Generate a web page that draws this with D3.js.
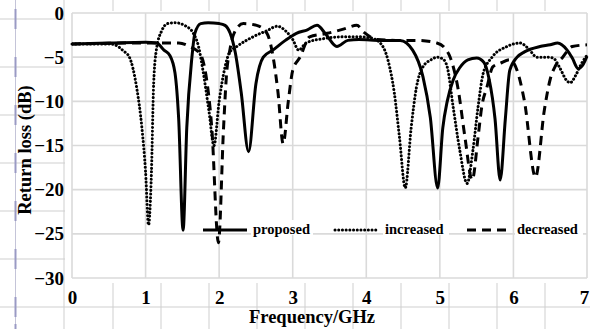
<!DOCTYPE html>
<head>
  <meta charset="utf-8">
  <title>Return loss</title>
  <style>
      body { margin: 0; background: #fff; }
      svg { display: block; font-family: "Liberation Serif", "Times New Roman", serif; font-weight: bold; }
  </style>
  <script src="https://d3js.org/d3.v7.js"></script>
</head>
<body>
<div id="chart"></div>

<script>
    // proposed (solid)
    const proposedF = [0, 0.5, 1.0, 1.15, 1.25, 1.33, 1.4, 1.45, 1.51, 1.56, 1.63, 1.67, 1.75, 1.85, 2.0, 2.08, 2.15, 2.22, 2.3, 2.4,
        2.5, 2.6, 2.73, 2.9, 3.05, 3.2, 3.33, 3.45, 3.6, 3.75, 3.9, 4.2, 4.46, 4.63, 4.77, 4.87, 4.97,
        5.04, 5.1, 5.18, 5.27, 5.38, 5.5, 5.6, 5.67, 5.75, 5.82, 5.89, 5.95, 6.05, 6.15, 6.36, 6.5, 6.6, 6.73, 6.8, 6.88, 6.95, 7.0];
    const proposedDb = [-3.5, -3.4, -3.3, -3.4, -4.2, -4.8, -6.8, -12, -24.6, -13, -5, -2.3, -1.2, -1.1, -1.2, -1.4, -2.3, -4.5, -9, -15.7,
        -8, -5, -4.2, -3.1, -2.3, -1.9, -1.4, -2.4, -3.8, -3.1, -3.0, -3.1, -3.1, -4.2, -7.2, -11.8, -19.8,
        -13, -10, -7.6, -6.2, -5.3, -5.1, -5.6, -7.5, -12, -18.9, -12, -6.5, -5, -4.4, -3.8, -3.6, -3.4, -4.2, -5.1, -6.3, -5.8, -4.9];

    // increased (dotted)
    const increasedF = [0, 0.5, 0.58, 0.7, 0.78, 0.88, 0.95, 1.0, 1.04, 1.08, 1.11, 1.15, 1.22, 1.3, 1.4, 1.55, 1.65, 1.72, 1.78, 1.86, 1.93,
        2.0, 2.07, 2.14, 2.24, 2.46, 2.65, 2.79, 2.9, 3.0, 3.08, 3.18, 3.42, 3.7, 3.9, 4.05, 4.19, 4.3, 4.38, 4.45, 4.53,
        4.61, 4.68, 4.77, 4.88, 4.96, 5.04, 5.1, 5.18, 5.27, 5.37, 5.45, 5.52, 5.59, 5.71, 5.91, 6.09, 6.2, 6.32, 6.45, 6.54,
        6.63, 6.72, 6.77, 6.85, 6.92, 7.0];
    const increasedDb = [-3.5, -3.5, -3.6, -4.3, -5, -8.5, -13, -18, -24, -18, -8, -4, -2, -1.2, -1.1, -1.5, -2.3, -3.8, -6.5, -11, -15,
        -10, -6.5, -4.5, -3.8, -2.7, -2.0, -1.5, -2.0, -3.0, -4.2, -3.4, -2.9, -2.7, -2.7, -2.8, -3.4, -5.5, -9, -14, -19.8,
        -13, -8.5, -6.1, -5.3, -5.0, -5.2, -6.1, -10.6, -15.5, -19.3, -15.5, -10.6, -6.8, -5.0, -3.8, -3.4, -4.0, -5.0, -5.0, -5.1,
        -6.2, -7.6, -7.9, -7.0, -5.8, -4.8];

    // decreased (dashed)
    const decreasedF = [0, 1.0, 1.2, 1.45, 1.6, 1.74, 1.82, 1.9, 1.99, 2.06, 2.1, 2.15, 2.22, 2.33, 2.51, 2.65, 2.74, 2.8, 2.87, 2.94,
        3.0, 3.1, 3.23, 3.47, 3.7, 3.87, 3.97, 4.15, 4.4, 4.69, 4.96, 5.07, 5.14, 5.25, 5.34, 5.44, 5.52, 5.57, 5.64, 5.72,
        5.82, 5.95, 6.05, 6.15, 6.3, 6.42, 6.5, 6.57, 6.67, 6.8, 7.0];
    const decreasedDb = [-3.5, -3.4, -3.4, -3.4, -3.8, -4.6, -7, -13, -26, -13, -7, -4, -2, -1.2, -1.4, -2.3, -5.3, -9, -14.8, -10,
        -6.5, -5, -2.7, -2.3, -1.8, -1.4, -2.2, -3.0, -3.1, -3.1, -3.4, -4.0, -5.0, -8.7, -14, -18.9, -14, -10.6, -8.4, -6.1,
        -5.7, -5.3, -6.5, -10, -18.6, -11, -7.5, -6, -5, -3.8, -3.6];

    const xTicks = [0, 1, 2, 3, 4, 5, 6, 7];
    const yTicks = [0, -5, -10, -15, -20, -25, -30];
    const seriesNames = ["proposed", "increased", "decreased"];

    const W = 590, H = 329;
    const svg = d3.select("#chart").append("svg")
        .attr("width", W).attr("height", H);

    // spreadsheet cells behind the chart
    const sheetX = [64, 113, 161, 209, 257, 305, 353, 401, 449, 497, 545];
    const sheetY = [19, 67, 115, 163, 211, 259, 307];
    svg.selectAll(".sx").data(sheetX).join("line")
        .attr("x1", d => d).attr("x2", d => d).attr("y1", 0).attr("y2", H)
        .attr("stroke", "#cfcfcf").attr("stroke-width", 1);
    svg.selectAll(".sy").data(sheetY).join("line")
        .attr("x1", 0).attr("x2", W).attr("y1", d => d).attr("y2", d => d)
        .attr("stroke", "#cfcfcf").attr("stroke-width", 1);
    svg.append("line").attr("x1", 15.5).attr("x2", 15.5).attr("y1", 0).attr("y2", H)
        .attr("stroke", "#c4c4d8").attr("stroke-width", 1);
    svg.selectAll(".mk").data(sheetY.map(d => d - 10).concat([H - 5])).join("line")
        .attr("x1", 15.5).attr("x2", 15.5).attr("y1", d => d).attr("y2", d => d + 20)
        .attr("stroke", "#9a9ac4").attr("stroke-width", 2);

    // chart area
    svg.append("rect").attr("x", 65).attr("y", 11).attr("width", W - 65).attr("height", 272).attr("fill", "#fff");

    const x = d3.scaleLinear().domain([0, 7]).range([72, 587]);
    const y = d3.scaleLinear().domain([-30, 0]).range([278, 13]);

    // grid
    svg.append("g").selectAll("line").data(xTicks).join("line")
        .attr("x1", d => x(d)).attr("x2", d => x(d)).attr("y1", y(0)).attr("y2", y(-30))
        .attr("stroke", "#dadada").attr("stroke-width", 1.6);
    svg.append("g").selectAll("line").data(yTicks).join("line")
        .attr("x1", x(0)).attr("x2", x(7)).attr("y1", d => y(d)).attr("y2", d => y(d))
        .attr("stroke", "#dadada").attr("stroke-width", 1.6);

    // axes (labels only)
    const yAxis = svg.append("g").attr("transform", "translate(64,0)")
        .call(d3.axisLeft(y).tickValues(yTicks).tickSize(0).tickPadding(0));
    yAxis.select(".domain").remove();
    yAxis.selectAll("text").attr("font-size", 19).attr("font-family", "Liberation Serif")
        .attr("font-weight", "bold").attr("fill", "#000");

    const xAxis = svg.append("g").attr("transform", "translate(0,290)")
        .call(d3.axisBottom(x).tickValues(xTicks).tickSize(0).tickPadding(0).tickFormat(d3.format("d")));
    xAxis.select(".domain").remove();
    xAxis.selectAll("text").attr("font-size", 19).attr("font-family", "Liberation Serif")
        .attr("font-weight", "bold").attr("fill", "#000")
        .attr("dx", d => d === 7 ? -3 : 0);

    svg.append("text").attr("x", 312).attr("y", 323).attr("text-anchor", "middle")
        .attr("font-size", 18.5).attr("fill", "#000").text("Frequency/GHz");
    svg.append("text").attr("transform", "translate(31,150) rotate(-90)").attr("text-anchor", "middle")
        .attr("font-size", 18.5).attr("fill", "#000").text("Return loss (dB)");

    // curves
    const line = d3.line().x(d => x(d[0])).y(d => y(d[1])).curve(d3.curveMonotoneX);
    const styles = [
        {dash: null, w: 3, cap: "butt"},
        {dash: "0.1 3.6", w: 3, cap: "round"},
        {dash: "9 6", w: 3, cap: "butt"}
    ];
    const series = [
        d3.zip(proposedF, proposedDb),
        d3.zip(increasedF, increasedDb),
        d3.zip(decreasedF, decreasedDb)
    ];
    series.forEach((s, i) => {
        svg.append("path").datum(s).attr("d", line)
            .attr("fill", "none").attr("stroke", "#000")
            .attr("stroke-width", styles[i].w)
            .attr("stroke-linecap", styles[i].cap)
            .attr("stroke-dasharray", styles[i].dash);
    });

    // legend
    const legX = [203, 335, 467];
    const leg = svg.append("g").selectAll("g").data(seriesNames).join("g")
        .attr("transform", (d, i) => `translate(${legX[i]},230)`);
    leg.append("rect").attr("x", 48).attr("y", -10).attr("width", (d, i) => [62, 66, 68][i]).attr("height", 15)
        .attr("fill", "#fff");
    leg.append("line").attr("x1", 0).attr("x2", 44).attr("y1", 0).attr("y2", 0)
        .attr("stroke", "#000")
        .attr("stroke-width", (d, i) => styles[i].w)
        .attr("stroke-linecap", (d, i) => styles[i].cap)
        .attr("stroke-dasharray", (d, i) => styles[i].dash);
    leg.append("text").attr("x", 50).attr("y", 4).attr("font-size", 14.5).attr("fill", "#000").text(d => d);
</script>
</body>
